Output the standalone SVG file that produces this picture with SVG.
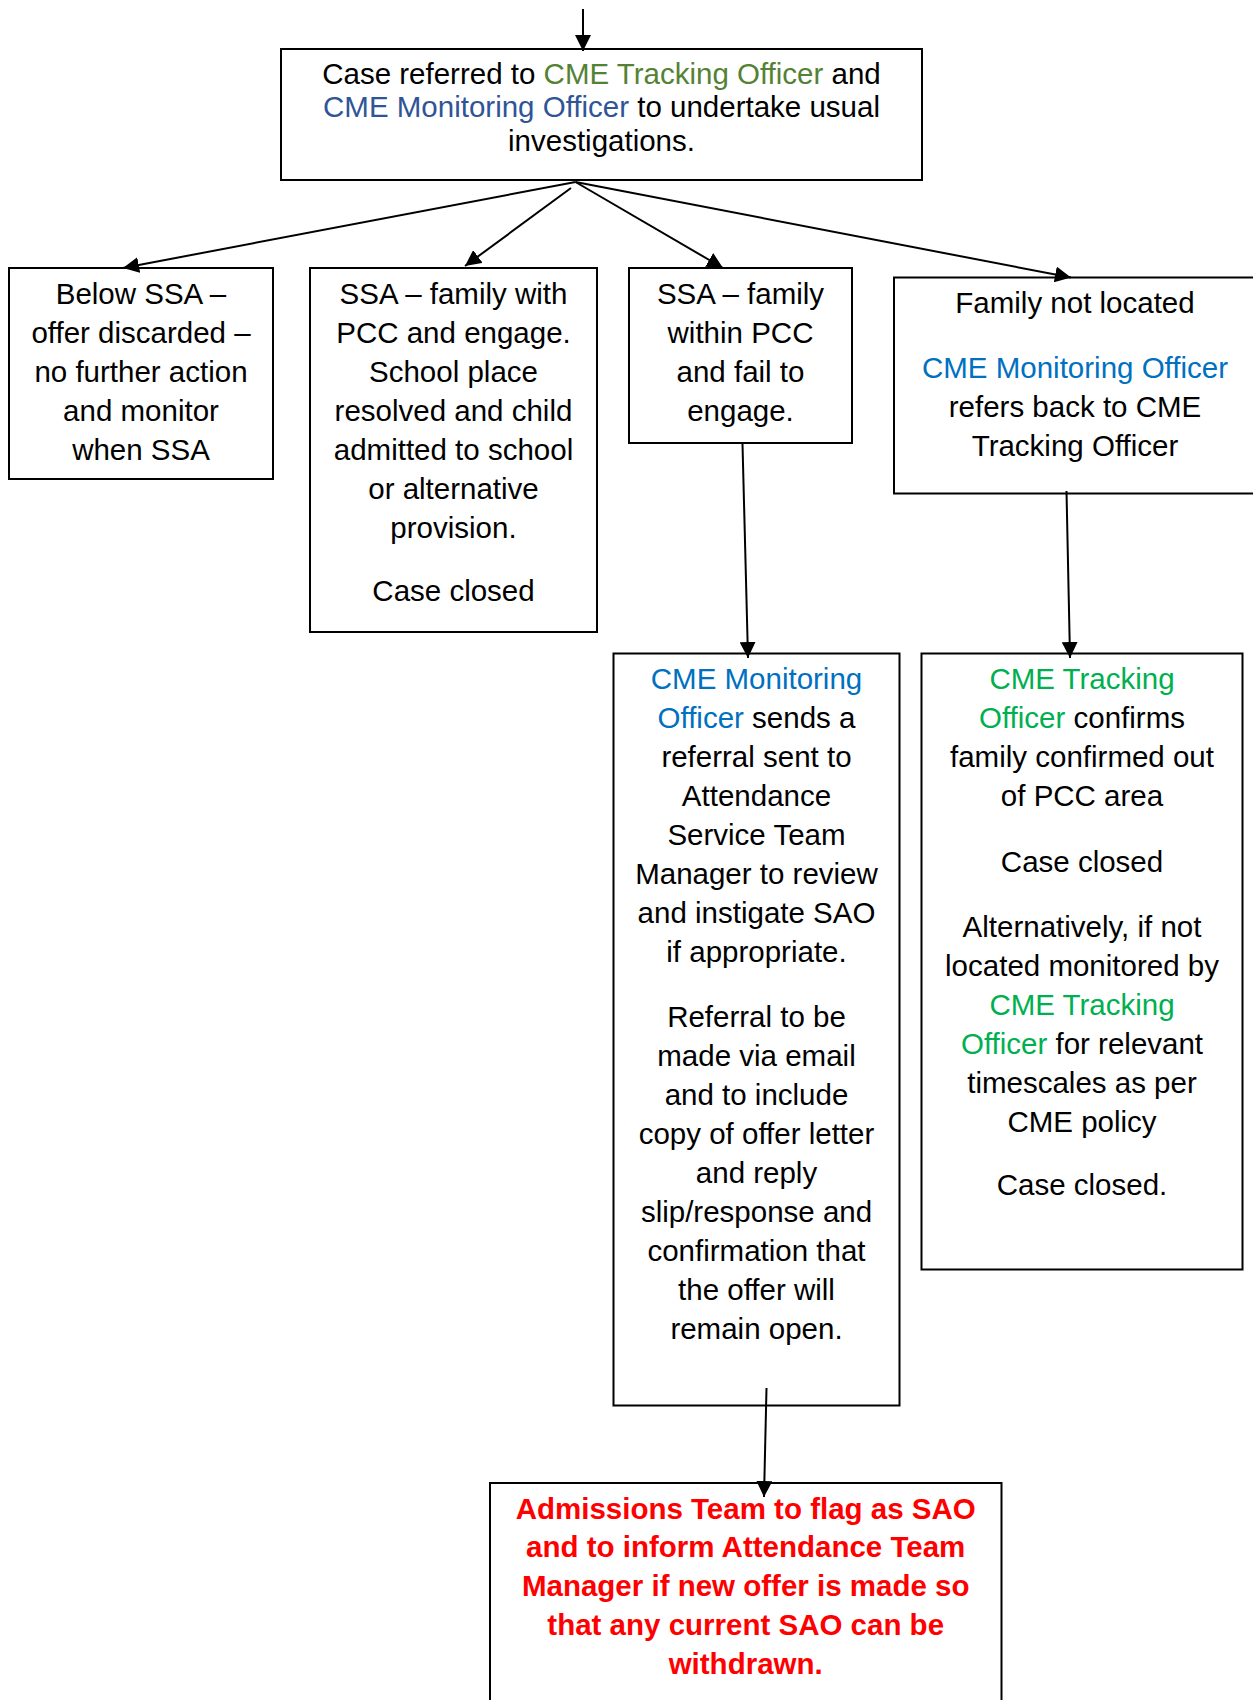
<svg xmlns="http://www.w3.org/2000/svg" width="1253" height="1700" viewBox="0 0 1253 1700">
<style>
.box{fill:#fff;stroke:#000;stroke-width:2}
text{font-family:"Liberation Sans",Arial,sans-serif;font-size:29.5px;fill:#000;text-anchor:middle}
.g1{fill:#548235}
.b1{fill:#2F5597}
.b2{fill:#0070C0}
.g2{fill:#00B050}
.red{fill:#FF0000;font-weight:bold}
.con{stroke:#000;stroke-width:2;fill:none;marker-end:url(#ah)}
</style>
<defs>
<marker id="ah" markerUnits="userSpaceOnUse" markerWidth="16" markerHeight="16" viewBox="0 0 16 16" refX="16" refY="8" orient="auto">
<path d="M0,0 L16,8 L0,16 z" fill="#000"/>
</marker>
</defs>
<rect width="1253" height="1700" fill="#fff"/>
<g id="n-top">
<rect class="box" x="281" y="49" width="641" height="131"/>
<text x="601.5" y="84">Case referred to <tspan class="g1">CME Tracking Officer</tspan> and</text>
<text x="601.5" y="117"><tspan class="b1">CME Monitoring Officer</tspan> to undertake usual</text>
<text x="601.5" y="151">investigations.</text>
</g>
<g id="n-below">
<rect class="box" x="9" y="268" width="264" height="211"/>
<text x="141" y="304">Below SSA –</text>
<text x="141" y="343">offer discarded –</text>
<text x="141" y="382">no further action</text>
<text x="141" y="421">and monitor</text>
<text x="141" y="460">when SSA</text>
</g>
<g id="n-engage">
<rect class="box" x="310" y="268" width="287" height="364"/>
<text x="453.5" y="304">SSA – family with</text>
<text x="453.5" y="343">PCC and engage.</text>
<text x="453.5" y="382">School place</text>
<text x="453.5" y="421">resolved and child</text>
<text x="453.5" y="460">admitted to school</text>
<text x="453.5" y="499">or alternative</text>
<text x="453.5" y="538">provision.</text>
<text x="453.5" y="601">Case closed</text>
</g>
<g id="n-fail">
<rect class="box" x="629" y="268" width="223" height="175"/>
<text x="740.5" y="304">SSA – family</text>
<text x="740.5" y="343">within PCC</text>
<text x="740.5" y="382">and fail to</text>
<text x="740.5" y="421">engage.</text>
</g>
<g id="n-notlocated">
<rect class="box" x="894" y="277.5" width="366" height="216"/>
<text x="1075" y="313">Family not located</text>
<text x="1075" y="378" class="b2">CME Monitoring Officer</text>
<text x="1075" y="417">refers back to CME</text>
<text x="1075" y="456">Tracking Officer</text>
</g>
<g id="n-monitoring">
<rect class="box" x="613.5" y="653.5" width="286" height="752"/>
<text x="756.5" y="689" class="b2">CME Monitoring</text>
<text x="756.5" y="728"><tspan class="b2">Officer</tspan> sends a</text>
<text x="756.5" y="767">referral sent to</text>
<text x="756.5" y="806">Attendance</text>
<text x="756.5" y="845">Service Team</text>
<text x="756.5" y="884">Manager to review</text>
<text x="756.5" y="923">and instigate SAO</text>
<text x="756.5" y="962">if appropriate.</text>
<text x="756.5" y="1027">Referral to be</text>
<text x="756.5" y="1066">made via email</text>
<text x="756.5" y="1105">and to include</text>
<text x="756.5" y="1144">copy of offer letter</text>
<text x="756.5" y="1183">and reply</text>
<text x="756.5" y="1222">slip/response and</text>
<text x="756.5" y="1261">confirmation that</text>
<text x="756.5" y="1300">the offer will</text>
<text x="756.5" y="1339">remain open.</text>
</g>
<g id="n-tracking">
<rect class="box" x="921.5" y="653.5" width="321" height="616"/>
<text x="1082" y="689" class="g2">CME Tracking</text>
<text x="1082" y="728"><tspan class="g2">Officer</tspan> confirms</text>
<text x="1082" y="767">family confirmed out</text>
<text x="1082" y="806">of PCC area</text>
<text x="1082" y="872">Case closed</text>
<text x="1082" y="937">Alternatively, if not</text>
<text x="1082" y="976">located monitored by</text>
<text x="1082" y="1015" class="g2">CME Tracking</text>
<text x="1082" y="1054"><tspan class="g2">Officer</tspan> for relevant</text>
<text x="1082" y="1093">timescales as per</text>
<text x="1082" y="1132">CME policy</text>
<text x="1082" y="1195">Case closed.</text>
</g>
<g id="n-admissions">
<rect class="box" x="490" y="1483" width="511.5" height="240"/>
<text x="745.7" y="1519" class="red">Admissions Team to flag as SAO</text>
<text x="745.7" y="1557" class="red">and to inform Attendance Team</text>
<text x="745.7" y="1596" class="red">Manager if new offer is made so</text>
<text x="745.7" y="1635" class="red">that any current SAO can be</text>
<text x="745.7" y="1674" class="red">withdrawn.</text>
</g>
<g id="connectors">
<line class="con" x1="583" y1="9" x2="583" y2="51"/>
<line class="con" x1="575.5" y1="182" x2="123" y2="268"/>
<line class="con" x1="571" y1="188" x2="465" y2="266"/>
<line class="con" x1="575.5" y1="182" x2="723" y2="268"/>
<line class="con" x1="575.5" y1="182" x2="1071" y2="277.5"/>
<line class="con" x1="742.5" y1="444" x2="748" y2="658"/>
<line class="con" x1="1066.5" y1="491" x2="1070" y2="658"/>
<line class="con" x1="766.5" y1="1388" x2="764" y2="1497"/>
</g>
</svg>
